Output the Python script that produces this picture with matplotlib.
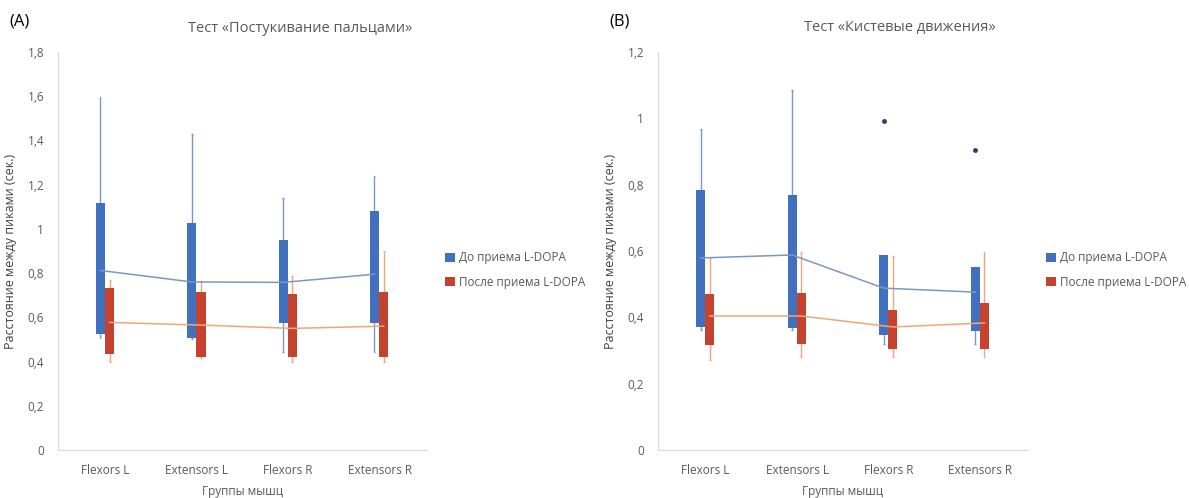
import numpy as np
import matplotlib.pyplot as plt
from matplotlib.ticker import FuncFormatter

plt.rcParams['font.family'] = ['Open Sans', 'DejaVu Sans']

groups = ["Flexors L", "Extensors L", "Flexors R", "Extensors R"]
series = ["До приема L-DOPA", "После приема L-DOPA"]

# Тест «Постукивание пальцами» (A)
a_pre_q1 = [0.525, 0.505, 0.575, 0.575]
a_pre_q3 = [1.115, 1.025, 0.950, 1.080]
a_pre_lo = [0.505, 0.500, 0.443, 0.443]
a_pre_hi = [1.597, 1.430, 1.140, 1.240]
a_pre_mean = [0.812, 0.760, 0.758, 0.795]
a_post_q1 = [0.432, 0.420, 0.420, 0.420]
a_post_q3 = [0.733, 0.715, 0.705, 0.715]
a_post_lo = [0.400, 0.418, 0.400, 0.400]
a_post_hi = [0.770, 0.765, 0.787, 0.900]
a_post_mean = [0.577, 0.565, 0.550, 0.560]

# Тест «Кистевые движения» (B)
b_pre_q1 = [0.371, 0.368, 0.347, 0.360]
b_pre_q3 = [0.784, 0.770, 0.588, 0.552]
b_pre_lo = [0.362, 0.362, 0.320, 0.320]
b_pre_hi = [0.967, 1.085, 0.588, 0.552]
b_pre_mean = [0.579, 0.588, 0.488, 0.476]
b_pre_out_x = [2, 3]
b_pre_out = [0.993, 0.905]
b_post_q1 = [0.316, 0.320, 0.305, 0.305]
b_post_q3 = [0.470, 0.473, 0.422, 0.443]
b_post_lo = [0.270, 0.280, 0.280, 0.280]
b_post_hi = [0.580, 0.597, 0.585, 0.597]
b_post_mean = [0.404, 0.404, 0.371, 0.383]

c_blue = '#4170BE'
c_red = '#C5422E'
c_blue_l = '#7C96C8'
c_red_l = '#F2A57A'
c_grey = '#595959'

fig = plt.figure(figsize=(11.89, 4.98), dpi=100)


def panel(rect, q1s, q3s, los, his, means, ymax, title, letter, x0, outx=None, outy=None):
    ax = fig.add_axes(rect)
    x = np.arange(len(groups))
    w = 0.1
    cols = [(c_blue, c_blue_l), (c_red, c_red_l)]
    offs = [-0.055, 0.045]
    for k in range(2):
        c, cl = cols[k]
        xs = x + offs[k]
        q1 = np.array(q1s[k]); q3 = np.array(q3s[k])
        ax.vlines(xs, los[k], his[k], color=cl, lw=1, zorder=1)
        ax.hlines(los[k], xs - 0.01, xs + 0.01, color=cl, lw=1, zorder=1)
        ax.hlines(his[k], xs - 0.01, xs + 0.01, color=cl, lw=1, zorder=1)
        ax.bar(xs, q3 - q1, bottom=q1, width=w, color=c, zorder=2, label=series[k])
        ax.plot(xs, means[k], color=cl, lw=1.1, zorder=3)
    if outx is not None:
        ax.plot(np.array(outx) + offs[0], outy, 'o', ms=2.5, color='#2E3F6E', zorder=3)
    ax.set_xlim(-0.52, 3.52)
    ax.set_ylim(0, ymax)
    ax.set_yticks(np.arange(0, ymax + 0.001, 0.2))
    ax.yaxis.set_major_formatter(FuncFormatter(lambda v, p: f"{v:.1f}".rstrip('0').rstrip('.').replace('.', ',')))
    ax.set_xticks(x)
    ax.set_xticklabels(groups)
    ax.tick_params(length=0, labelsize=8.5, colors=c_grey, pad=10)
    for s in ['top', 'right']:
        ax.spines[s].set_visible(False)
    for s in ['left', 'bottom']:
        ax.spines[s].set_color('#D9D9D9')
    ax.set_xlabel("Группы мышц", fontsize=8.5, color=c_grey, labelpad=6)
    ax.set_ylabel("Расстояние между пиками (сек.)", fontsize=9, color='#404040')
    ax.yaxis.set_label_coords(-41 / (rect[2] * 1189), 0.5)
    fig.text((x0 + 300) / 1189, 1 - 28 / 498, title, ha='center', va='center', fontsize=10.5, color=c_grey)
    fig.text((x0 + 9) / 1189, 1 - 22 / 498, letter, ha='left', va='center', fontsize=12, color='black')
    ax.legend(loc='center left', bbox_to_anchor=(1.02, 0.452), frameon=False, fontsize=8.5,
              handlelength=0.85, handleheight=0.85, handletextpad=0.35, labelspacing=0.95,
              labelcolor=c_grey)
    return ax


H = 398 / 498
B0 = 48 / 498
panel([58 / 1189, B0, 369 / 1189, H],
      [a_pre_q1, a_post_q1], [a_pre_q3, a_post_q3], [a_pre_lo, a_post_lo],
      [a_pre_hi, a_post_hi], [a_pre_mean, a_post_mean], 1.8,
      "Тест «Постукивание пальцами»", "(A)", 0)
panel([658 / 1189, B0, 370 / 1189, H],
      [b_pre_q1, b_post_q1], [b_pre_q3, b_post_q3], [b_pre_lo, b_post_lo],
      [b_pre_hi, b_post_hi], [b_pre_mean, b_post_mean], 1.2,
      "Тест «Кистевые движения»", "(B)", 600, b_pre_out_x, b_pre_out)

fig.savefig("out.png", dpi=100)
